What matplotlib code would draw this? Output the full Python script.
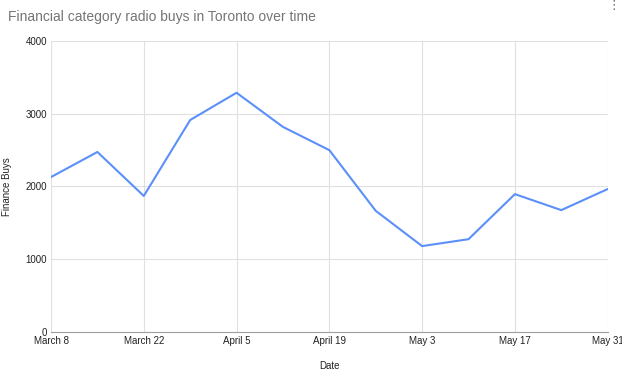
import matplotlib.pyplot as plt

plt.rcParams['font.family'] = ['Liberation Sans', 'DejaVu Sans']

weeks = list(range(13))
buys = [2130, 2475, 1870, 2915, 3290, 2820, 2500, 1665, 1180, 1275, 1895, 1675, 1965]
tick_weeks = [0, 2, 4, 6, 8, 10, 12]
tick_labels = ['March 8', 'March 22', 'April 5', 'April 19', 'May 3', 'May 17', 'May 31']
y_ticks = [0, 1000, 2000, 3000, 4000]

fig = plt.figure(figsize=(6.22, 3.81), dpi=100)
ax = fig.add_axes([0.082, 0.129, 0.895, 0.763])

ax.plot(weeks, buys, color='#5b8ff9', linewidth=1.5)

ax.set_xlim(0, 12)
ax.set_ylim(0, 4000)
ax.set_xticks(tick_weeks)
ax.set_xticklabels(tick_labels)
ax.set_yticks(y_ticks)
ax.tick_params(length=0, labelsize=7, colors='#222222', pad=3)
ax.grid(True, color='#e0e0e0', linewidth=0.8)
ax.set_axisbelow(True)
for side in ['top', 'right', 'left']:
    ax.spines[side].set_visible(False)
ax.spines['bottom'].set_color('#9e9e9e')

ax.set_xlabel('Date', fontsize=7, color='#222222')
ax.set_ylabel('Finance Buys', fontsize=7, color='#222222')
ax.xaxis.set_label_coords(0.5, -0.1)
ax.yaxis.set_label_coords(-0.07, 0.5)

fig.text(0.013, 0.955, 'Financial category radio buys in Toronto over time',
         fontsize=10, color='#757575', va='center', ha='left')
fig.text(0.987, 0.985, '\u22ee', fontsize=9, color='#666666', ha='center', va='center')

fig.savefig('out.png', dpi=100)
